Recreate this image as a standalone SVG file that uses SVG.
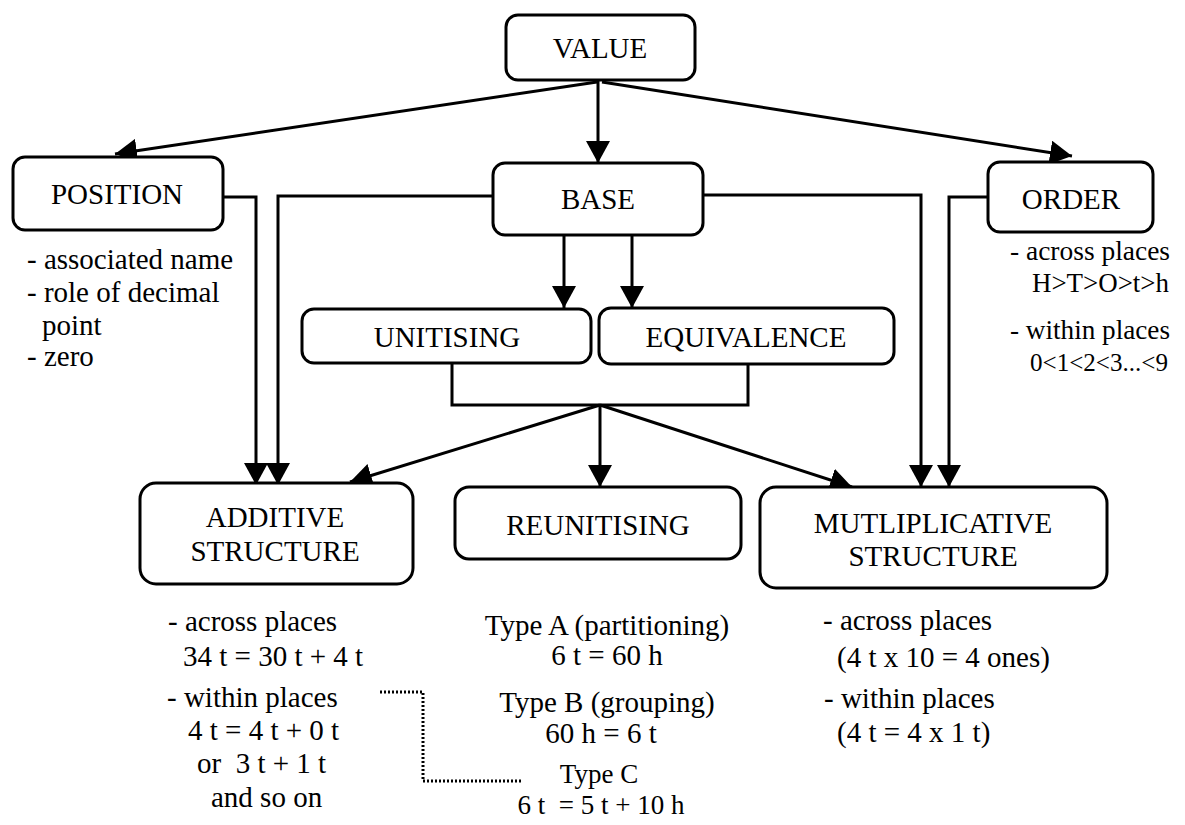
<svg xmlns="http://www.w3.org/2000/svg" width="1185" height="825" viewBox="0 0 1185 825">
<style>
.box{fill:#fff;stroke:#000;stroke-width:3}
.t{font-family:"Liberation Serif","Times New Roman",serif;font-size:29px;fill:#000}
.s{font-size:27px}
.o{font-size:27px}
.c{text-anchor:middle}
.ln{fill:none;stroke:#000;stroke-width:3}
.dot{fill:none;stroke:#000;stroke-width:3;stroke-dasharray:2 2}
</style>
<defs>
<marker id="ah" markerUnits="userSpaceOnUse" markerWidth="24" markerHeight="24" viewBox="0 0 24 24" refX="22" refY="12" orient="auto"><path d="M0,0 L22,12 L0,24 z" fill="#000"/></marker>
</defs>
<rect width="1185" height="825" fill="#fff"/>
<g id="connectors">
<line class="ln" x1="598" y1="81" x2="598" y2="163" marker-end="url(#ah)"/>
<line class="ln" x1="597" y1="82" x2="115" y2="154" marker-end="url(#ah)"/>
<line class="ln" x1="602" y1="82" x2="1072" y2="156" marker-end="url(#ah)"/>
<polyline class="ln" points="223,197 256,197 256,485" marker-end="url(#ah)"/>
<polyline class="ln" points="493,196 278,196 278,485" marker-end="url(#ah)"/>
<polyline class="ln" points="703,195 921,195 921,487" marker-end="url(#ah)"/>
<polyline class="ln" points="988,197 949,197 949,487" marker-end="url(#ah)"/>
<line class="ln" x1="564" y1="235" x2="564" y2="308" marker-end="url(#ah)"/>
<line class="ln" x1="632" y1="235" x2="632" y2="308" marker-end="url(#ah)"/>
<polyline class="ln" points="452,363 452,405 748,405 748,364"/>
<line class="ln" x1="600" y1="405" x2="350" y2="482" marker-end="url(#ah)"/>
<line class="ln" x1="600" y1="405" x2="600" y2="487" marker-end="url(#ah)"/>
<line class="ln" x1="600" y1="405" x2="852" y2="487" marker-end="url(#ah)"/>
<polyline class="dot" points="380,692 423,692 423,781 523,781"/>
</g>
<g id="value"><rect class="box" x="506" y="15" width="189" height="65" rx="12"/><text class="t c" x="600" y="58">VALUE</text></g>
<g id="position"><rect class="box" x="13" y="157" width="210" height="73" rx="12"/><text class="t c" x="117" y="204">POSITION</text></g>
<g id="base"><rect class="box" x="493" y="163" width="210" height="72" rx="12"/><text class="t c" x="598" y="209">BASE</text></g>
<g id="order"><rect class="box" x="988" y="162" width="165" height="70" rx="12"/><text class="t c" x="1071" y="209">ORDER</text></g>
<g id="unitising"><rect class="box" x="302" y="309" width="289" height="54" rx="12"/><text class="t c" x="447" y="347">UNITISING</text></g>
<g id="equivalence"><rect class="box" x="599" y="308" width="295" height="56" rx="12"/><text class="t c" x="746" y="347">EQUIVALENCE</text></g>
<g id="additive"><rect class="box" x="140" y="483" width="273" height="101" rx="16"/><text class="t c" x="275" y="527">ADDITIVE</text><text class="t c" x="275" y="561">STRUCTURE</text></g>
<g id="reunitising"><rect class="box" x="455" y="487" width="286" height="72" rx="14"/><text class="t c" x="598" y="535">REUNITISING</text></g>
<g id="multiplicative"><rect class="box" x="760" y="487" width="347" height="101" rx="16"/><text class="t c" x="933" y="533">MUTLIPLICATIVE</text><text class="t c" x="933" y="566">STRUCTURE</text></g>
<g id="position-notes">
<text class="t" x="27" y="269">- associated name</text>
<text class="t" x="27" y="302">- role of decimal</text>
<text class="t" x="42" y="335">point</text>
<text class="t" x="27" y="366">- zero</text>
</g>
<g id="order-notes">
<text class="t o" x="1010" y="260" textLength="160" lengthAdjust="spacingAndGlyphs">- across places</text>
<text class="t o" x="1032" y="292" textLength="137" lengthAdjust="spacingAndGlyphs">H&gt;T&gt;O&gt;t&gt;h</text>
<text class="t o" x="1010" y="339" textLength="160" lengthAdjust="spacingAndGlyphs">- within places</text>
<text class="t" style="font-size:26px" x="1030" y="371" textLength="138" lengthAdjust="spacingAndGlyphs">0&lt;1&lt;2&lt;3...&lt;9</text>
</g>
<g id="additive-notes">
<text class="t" x="168" y="631">- across places</text>
<text class="t" x="183" y="666">34 t = 30 t + 4 t</text>
<text class="t" x="167" y="707">- within places</text>
<text class="t" x="188" y="740">4 t = 4 t + 0 t</text>
<text class="t" x="197" y="773" xml:space="preserve">or  3 t + 1 t</text>
<text class="t" x="211" y="807">and so on</text>
</g>
<g id="reunitising-notes">
<text class="t c" x="607" y="635">Type A (partitioning)</text>
<text class="t c" x="607" y="665">6 t = 60 h</text>
<text class="t c" x="607" y="712">Type B (grouping)</text>
<text class="t c" x="601" y="743">60 h = 6 t</text>
<text class="t s c" x="599" y="783">Type C</text>
<text class="t s c" x="601" y="814" xml:space="preserve">6 t  = 5 t + 10 h</text>
</g>
<g id="multiplicative-notes">
<text class="t" x="823" y="630">- across places</text>
<text class="t" x="837" y="667">(4 t x 10 = 4 ones)</text>
<text class="t" x="824" y="708">- within places</text>
<text class="t" x="837" y="742">(4 t = 4 x 1 t)</text>
</g>
</svg>
